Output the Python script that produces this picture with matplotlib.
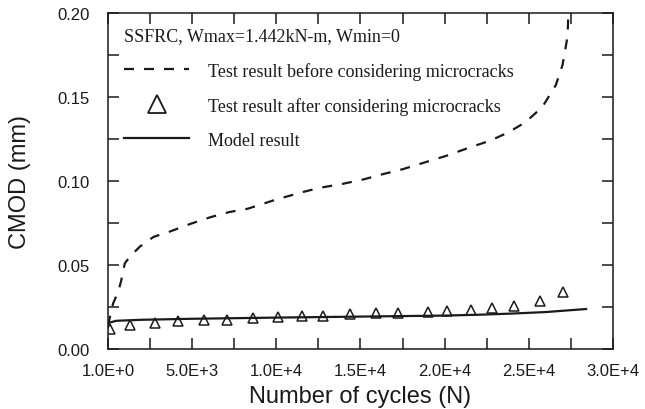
import matplotlib.pyplot as plt
from matplotlib.ticker import MultipleLocator, FuncFormatter
from matplotlib.lines import Line2D

# CMOD test curve before microcrack correction
n_before = [0, 300, 600, 770, 1000, 1300, 1900, 2700, 3700, 4900, 6100, 7200,
            8300, 10000, 11600, 12600, 13800, 15200, 16300, 17500, 18800,
            20100, 21500, 22700, 23800, 24800, 25800, 26600, 27000, 27300, 27350]
cmod_before = [0.014, 0.027, 0.034, 0.040, 0.051, 0.055, 0.061, 0.0667, 0.070,
               0.0745, 0.0785, 0.0815, 0.0835, 0.089, 0.0935, 0.096, 0.098,
               0.101, 0.104, 0.107, 0.111, 0.115, 0.120, 0.124, 0.129, 0.135,
               0.144, 0.157, 0.169, 0.186, 0.200]

# test points after microcrack correction
n_after = [100, 1300, 2800, 4150, 5700, 7050, 8600, 10100, 11500, 12800, 14400,
           15900, 17250, 19000, 20150, 21550, 22800, 24100, 25650, 27000]
cmod_after = [0.0119, 0.0143, 0.0155, 0.0167, 0.0173, 0.0173, 0.0185, 0.019,
              0.0196, 0.0196, 0.0208, 0.0214, 0.0216, 0.022, 0.0226, 0.0232,
              0.0244, 0.0256, 0.0286, 0.034]

# model prediction
n_model = [0, 500, 2000, 5000, 10000, 15000, 20000, 22000, 24000, 26000, 28400]
cmod_model = [0.0155, 0.0168, 0.0174, 0.0180, 0.0187, 0.0193, 0.0199, 0.0204,
              0.0211, 0.0220, 0.0238]

ink = '#1a1a1a'
serif = 'Liberation Serif'
sans = 'Liberation Sans'

fig = plt.figure(figsize=(6.45, 4.10), dpi=100)
ax = fig.add_axes([0.1674, 0.1463, 0.7830, 0.8196])

ax.plot(n_before, cmod_before, color=ink, lw=1.6, dashes=(4.5, 4.5))
ax.plot(n_after, cmod_after, ls='none', marker='^', ms=7, mfc='white',
        mec=ink, mew=1.1)
ax.plot(n_model, cmod_model, color=ink, lw=1.6)

ax.set_xlim(0, 30000)
ax.set_ylim(0, 0.2)

ax.xaxis.set_major_locator(MultipleLocator(2500))
ax.yaxis.set_major_locator(MultipleLocator(0.025))


def xfmt(v, pos):
    if round(v) % 5000:
        return ''
    if v == 0:
        return '1.0E+0'
    return '%.1fE+%d' % (v / 10 ** len(str(int(v))[1:]), len(str(int(v))) - 1)


def yfmt(v, pos):
    if round(v * 1000) % 50:
        return ''
    return '%.2f' % v


ax.xaxis.set_major_formatter(FuncFormatter(xfmt))
ax.yaxis.set_major_formatter(FuncFormatter(yfmt))
ax.tick_params(axis='both', direction='in', length=8, width=1.1, color=ink,
               top=True, right=True, labelsize=12, labelcolor=ink)
ax.tick_params(axis='x', pad=10)
ax.tick_params(axis='y', pad=13)
for lab in ax.get_xticklabels() + ax.get_yticklabels():
    lab.set_family(sans)

for sp in ax.spines.values():
    sp.set_linewidth(1.1)
    sp.set_color(ink)

ax.set_xlabel('Number of cycles (N)', fontsize=17, family=sans, color=ink,
              labelpad=5)
ax.set_ylabel('CMOD (mm)', fontsize=17, family=sans, color=ink, labelpad=19)

handles = [
    Line2D([], [], color=ink, lw=1.6, dashes=(4.5, 4.5)),
    Line2D([], [], ls='none', marker='^', ms=13, mfc='white', mec=ink, mew=1.3),
    Line2D([], [], color=ink, lw=1.6),
]
labels = ['Test result before considering microcracks',
          'Test result after considering microcracks',
          'Model result']
leg = ax.legend(handles, labels, loc='upper left', bbox_to_anchor=(0.0, 1.005),
                frameon=False, prop={'family': serif, 'size': 13},
                title='SSFRC, Wmax=1.442kN-m, Wmin=0',
                title_fontproperties={'family': serif, 'size': 13},
                alignment='left', handlelength=3.6, handletextpad=1.05,
                labelspacing=0.95, borderaxespad=0.5)
for t in leg.get_texts():
    t.set_color(ink)
leg.get_title().set_color(ink)

fig.savefig('out.png', dpi=100)
